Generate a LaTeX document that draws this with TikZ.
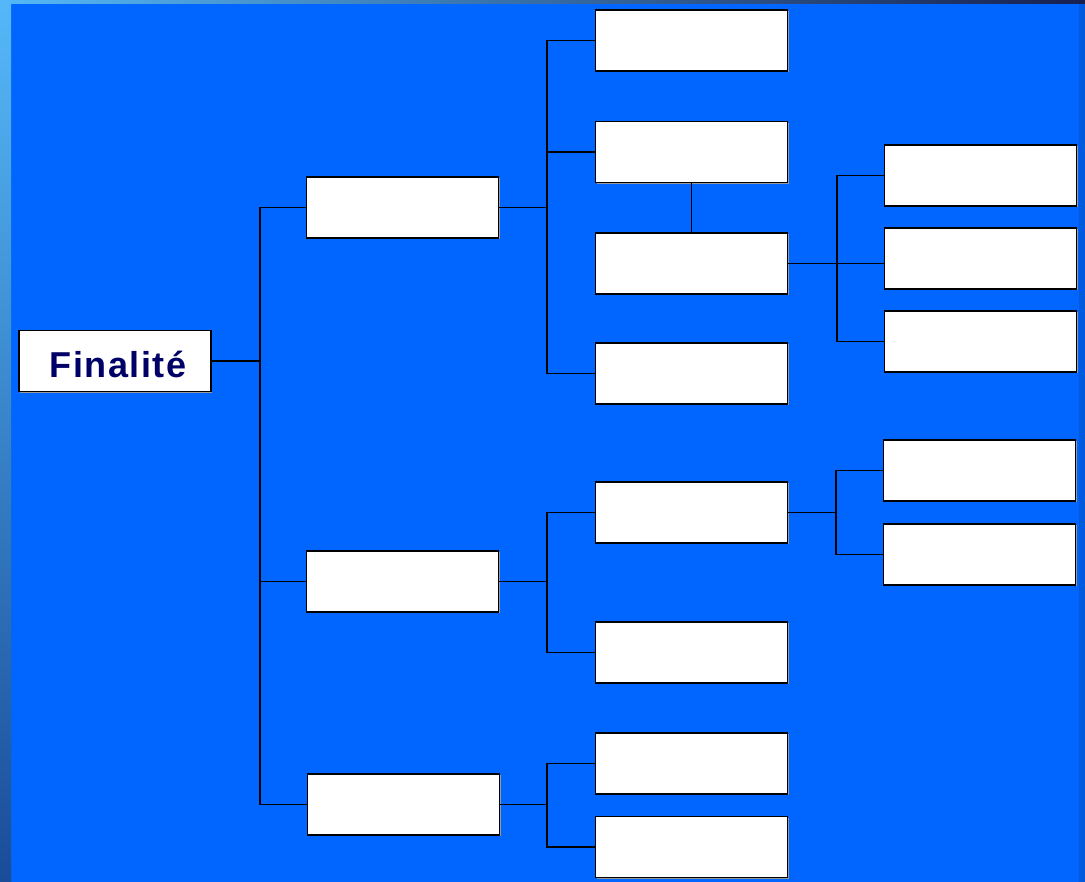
\documentclass[tikz,border=0pt]{standalone}
\usepackage{fontspec}
\setmainfont{Liberation Sans}
\usetikzlibrary{shadows}
\definecolor{fblue}{HTML}{0066FF}
\definecolor{fnavy}{HTML}{000066}
\definecolor{fsky}{HTML}{55B8F8}
\definecolor{fmid}{HTML}{3A88F2}
\definecolor{fdeep}{HTML}{1A4C98}
\definecolor{fdark}{HTML}{182050}
\tikzset{
  box/.style  = {draw, line width=1.3pt, fill=white, inner sep=0pt,
                 minimum width=192pt, minimum height=61pt,
                 drop shadow={shadow xshift=1.3pt, shadow yshift=-1.3pt,
                              fill=black!40, opacity=1}},
  link/.style = {line width=1.7pt},
}

\begin{document}
\begin{tikzpicture}[x=1pt, y=-1pt]
% ---------------- background ----------------
\useasboundingbox (0,0) rectangle (1085,882);
\fill[fblue] (0,0) rectangle (1085,882);
\shade[top color=fsky, middle color=fmid, bottom color=fdeep]
      (0,0) rectangle (11,882);
\shade[left color=fsky, middle color=fmid, right color=fdark]
      (0,0) rectangle (1085,4);
\fill[fblue!88!black] (1079,4) rectangle (1085,882);
% ---------------- boxes ----------------
\node[box] (fin) at (115,361) {};
\node[font=\fontsize{36}{40}\selectfont\bfseries, text=fnavy, inner sep=0pt]
     (fintxt) at ([xshift=3pt, yshift=-3pt]fin.center)
     {\addfontfeature{LetterSpace=4}Finalit\'e};
% first level
\node[box] (obja) at (402.5,207.5) {};
\node[box] (objb) at (402.5,581.5) {};
\node[box] (objc) at (403.5,804.5) {};
% second level
\node[box] (suba) at (691.5,40.5) {};
\node[box] (subb) at (691.5,152) {};
\node[box] (subc) at (691.5,263.5) {};
\node[box] (subd) at (691.5,373.5) {};
\node[box] (sube) at (691.5,512.5) {};
\node[box] (subf) at (691.5,652.5) {};
\node[box] (subg) at (691.5,763.5) {};
\node[box] (subh) at (691.5,847) {};
% third level
\node[box] (acta) at (980.5,175.5) {};
\node[box] (actb) at (980.5,258.5) {};
\node[box] (actc) at (980.5,341.5) {};
\node[box] (actd) at (979.5,470.5) {};
\node[box] (acte) at (979.5,554.5) {};
% ---------------- connectors ----------------
\coordinate (busa) at (260,0);
\coordinate (busb) at (547,0);
\coordinate (busc) at (837,0);
\coordinate (busd) at (836,0);
\draw[link] (fin.east) -- (fin.east -| busa);
\draw[link] (obja.west) -| (busa |- objc.west) -- (objc.west);
\draw[link] (objb.west) -- (objb.west -| busa);
% first branch
\draw[link] (obja.east) -- (obja.east -| busb);
\draw[link] (suba.west) -| (busb |- subd.west) -- (subd.west);
\draw[link] (subb.west) -- (subb.west -| busb);
\draw[link] (subb.south) -- (subc.north);
\draw[link] (subc.east) -- (subc.east -| actb.west);
\draw[link] (acta.west) -| (busc |- actc.west) -- (actc.west);
% second branch
\draw[link] (objb.east) -- (objb.east -| busb);
\draw[link] (sube.west) -| (busb |- subf.west) -- (subf.west);
\draw[link] (sube.east) -- (sube.east -| busd);
\draw[link] (actd.west) -| (busd |- acte.west) -- (acte.west);
% third branch
\draw[link] (objc.east) -- (objc.east -| busb);
\draw[link] (subg.west) -| (busb |- subh.west) -- (subh.west);
\end{tikzpicture}
\end{document}
